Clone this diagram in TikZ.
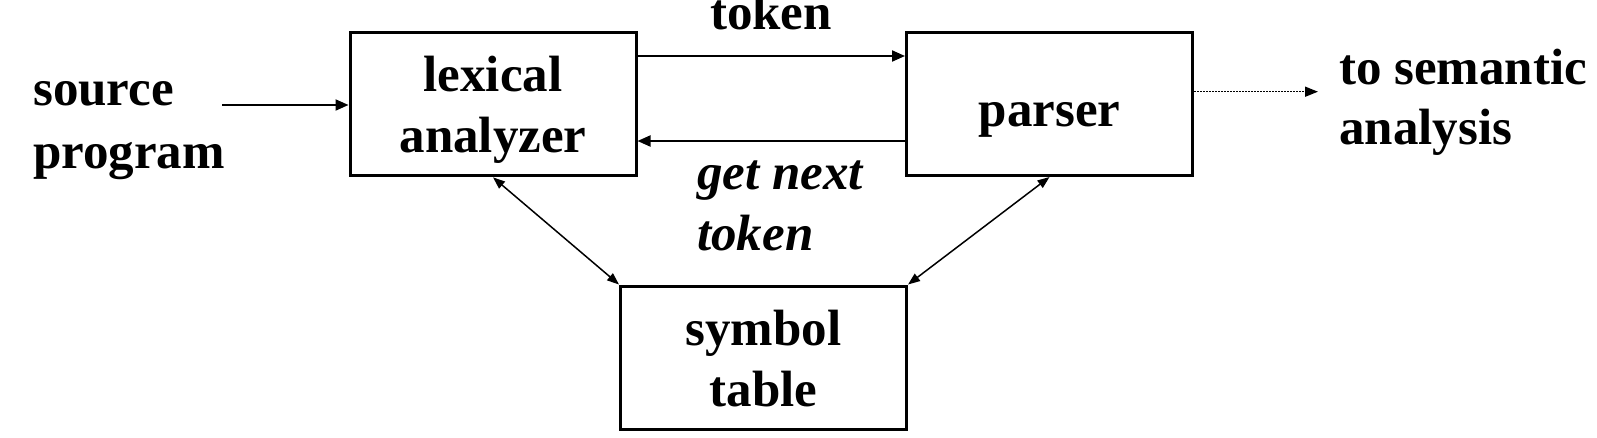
\documentclass[tikz,border=0pt]{standalone}
\usepackage{fontspec}
\setmainfont{Liberation Serif}
\usetikzlibrary{arrows.meta}
\newcommand{\ctxt}[1]{\vtop{\halign{\hfil##\hfil\cr#1\crcr}}}
\newcommand{\ltxt}[1]{\vtop{\halign{##\hfil\cr#1\crcr}}}
\begin{document}
\begin{tikzpicture}[x=1pt,y=-1pt,
  lbl/.style={font=\fontsize{51}{61}\selectfont\bfseries, inner sep=0pt},
  box/.style={draw, line width=3pt, lbl, minimum width=286pt, minimum height=143pt},
  arr/.style={line width=2pt, -{Triangle[length=13pt,width=11pt]}},
  darr/.style={line width=1.5pt, {Triangle[length=12pt,width=9pt]}-{Triangle[length=12pt,width=9pt]}},
  dotarr/.style={line width=1.5pt, dash pattern=on 1.5pt off 1.5pt, -{Triangle[length=13pt,width=10pt]}}]
\useasboundingbox (0,0) rectangle (1597,437);
% boxes
\node[box, text height=10pt, text depth=35.3pt] (lex) at (493,104.35) {\ctxt{lexical\cr analyzer}};
\node[box, text height=50pt, text depth=6pt] (par) at (1049.5,104) {parser};
\node[box, text height=10pt, text depth=35pt] (sym) at (763.5,357.5) {\ctxt{symbol\cr table}};
% free labels
\node[lbl, font=\fontsize{51}{63.5}\selectfont\bfseries, anchor=base west] (src) at (33,105) {\ltxt{source\cr program}};
\node[lbl, anchor=base] (tok) at (771,29) {token};
\node[lbl, font=\fontsize{51}{61}\selectfont\bfseries\itshape, anchor=base west] (gnt) at (697,189) {\ltxt{get next\cr token}};
\node[lbl, font=\fontsize{51}{60}\selectfont\bfseries, anchor=base west] (sem) at (1339,84.5) {\ltxt{to semantic\cr analysis}};
% helper coordinates
\coordinate (srcA) at (222,105);
\coordinate (tokY) at (0,56);
\coordinate (gntY) at (0,141);
\coordinate (semA) at (1318,91.7);
% connectors
\draw[arr] (srcA) -- (srcA -| lex.west);
\draw[arr] (lex.east |- tokY) -- (par.west |- tokY);
\draw[arr] (par.west |- gntY) -- (lex.east |- gntY);
\draw[dotarr] (par.east |- semA) -- (semA);
\draw[darr] (lex.south) -- (sym.north west);
\draw[darr] (par.south) -- (sym.north east);
\end{tikzpicture}
\end{document}
